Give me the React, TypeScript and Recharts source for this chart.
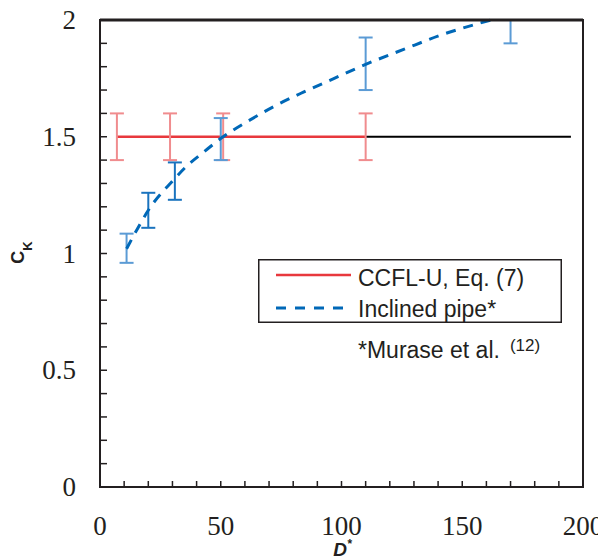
import React from "react";
import {
  ComposedChart,
  Line,
  Scatter,
  ErrorBar,
  XAxis,
  YAxis,
  ReferenceArea,
  ReferenceLine,
  Legend,
} from "recharts";

// CCFL-U correlation, Eq. (7)
const ccflCk = 1.5;
const ccflX = [7, 110];
const ccflExtX = [110, 195];
const ccflBarX = [7, 29, 51, 110];
const ccflBarLo = [1.4, 1.4, 1.4, 1.4];
const ccflBarHi = [1.6, 1.6, 1.6, 1.6];

// inclined pipe data (Murase et al.)
const pipeX = [11, 16, 20, 30, 36, 43, 51, 61, 73, 84, 97, 110, 126, 141, 155, 162];
const pipeCk = [1.02, 1.115, 1.185, 1.31, 1.375, 1.435, 1.5, 1.565, 1.635, 1.69, 1.75, 1.81, 1.875, 1.935, 1.98, 2.0];
const pipeBarX = [11, 50, 110, 170];
const pipeBarLo = [0.96, 1.4, 1.7, 1.9];
const pipeBarHi = [1.085, 1.58, 1.925, 2.0];
const pipeBarDarkX = [20, 31];
const pipeBarDarkLo = [1.11, 1.23];
const pipeBarDarkHi = [1.26, 1.39];

const xTicks = [0, 10, 20, 30, 40, 50, 60, 70, 80, 90, 100, 110, 120, 130, 140, 150, 160, 170, 180, 190, 200];
const xMajor = [0, 50, 100, 150, 200];
const yTicks = [0, 0.1, 0.2, 0.3, 0.4, 0.5, 0.6, 0.7, 0.8, 0.9, 1, 1.1, 1.2, 1.3, 1.4, 1.5, 1.6, 1.7, 1.8, 1.9, 2];
const yMajor = [0, 0.5, 1, 1.5, 2];

const INK = "#231f20";
const RED = "#e8383d";
const RED_BAR = "#f08c8e";
const BLUE = "#0068b7";
const BLUE_BAR = "#5b9bd5";
const BLUE_BAR_DARK = "#1a73be";
const SERIF = "'Liberation Serif', 'Times New Roman', serif";
const SANS = "'Liberation Sans', Arial, sans-serif";

const toLine = (xs: number[], ys: number[]) => xs.map((x, i) => ({ x, y: ys[i] }));
const toBars = (xs: number[], lo: number[], hi: number[]) =>
  xs.map((x, i) => ({ x, y: (lo[i] + hi[i]) / 2, err: (hi[i] - lo[i]) / 2 }));

const ccflLine = toLine(ccflX, ccflX.map(() => ccflCk));
const ccflExt = toLine(ccflExtX, ccflExtX.map(() => ccflCk));
const ccflBars = toBars(ccflBarX, ccflBarLo, ccflBarHi);
const pipeLine = toLine(pipeX, pipeCk);
const pipeBars = toBars(pipeBarX, pipeBarLo, pipeBarHi);
const pipeBarsDark = toBars(pipeBarDarkX, pipeBarDarkLo, pipeBarDarkHi);

const XTick = ({ x, y, payload }: any) => (
  <g>
    <line x1={x} y1={y} x2={x} y2={y - 6} stroke={INK} strokeWidth={1.5} />
    {xMajor.includes(payload.value) && (
      <text x={x} y={y + 48} textAnchor="middle" fontFamily={SERIF} fontSize={27} fill={INK}>
        {payload.value}
      </text>
    )}
  </g>
);

const YTick = ({ x, y, payload }: any) => (
  <g>
    <line x1={x} y1={y} x2={x + 7} y2={y} stroke={INK} strokeWidth={1.5} />
    {yMajor.includes(payload.value) && (
      <text x={x - 24} y={y + 9} textAnchor="end" fontFamily={SERIF} fontSize={27} fill={INK}>
        {payload.value}
      </text>
    )}
  </g>
);

const LegendBox = () => (
  <svg width={310} height={112}>
    <rect x={0.75} y={0.75} width={302.5} height={62.5} fill="#fff" stroke={INK} strokeWidth={1.5} />
    <line x1={18} y1={16} x2={93} y2={16} stroke={RED} strokeWidth={2.5} />
    <line x1={18} y1={49} x2={86} y2={49} stroke={BLUE} strokeWidth={3} strokeDasharray="10 9" />
    <g fontFamily={SANS} fontSize={23} fill={INK}>
      <text x={100} y={27}>CCFL-U, Eq. (7)</text>
      <text x={100} y={58}>Inclined pipe*</text>
      <text x={100} y={99}>
        *Murase et al.
        <tspan dx={10} dy={-7} fontSize={17}>(12)</tspan>
      </text>
    </g>
  </svg>
);

const YTitle = ({ viewBox }: any) => {
  const cy = viewBox.y + viewBox.height / 2 - 1;
  return (
    <text
      transform="rotate(-90)"
      x={-cy}
      y={15.5}
      textAnchor="middle"
      fontFamily={SANS}
      fontWeight="bold"
      fontSize={18}
      fill={INK}
    >
      C
      <tspan fontSize={13} dy={8}>K</tspan>
    </text>
  );
};

const XTitle = ({ viewBox }: any) => (
  <text
    x={viewBox.x + viewBox.width / 2 + 1}
    y={viewBox.y + 69}
    textAnchor="middle"
    fontFamily={SANS}
    fontWeight="bold"
    fontStyle="italic"
    fontSize={19}
    fill={INK}
  >
    D
    <tspan fontSize={12} dy={-8}>*</tspan>
  </text>
);

export default function App() {
  return (
    <ComposedChart width={598} height={552} margin={{ top: 12, right: 23, left: 0, bottom: 0 }}>
      <XAxis
        dataKey="x"
        type="number"
        domain={[0, 200]}
        ticks={xTicks}
        interval={0}
        height={73}
        tickSize={0}
        tickMargin={0}
        tickLine={false}
        axisLine={false}
        tick={<XTick />}
        label={<XTitle />}
      />
      <YAxis
        type="number"
        domain={[0, 2]}
        ticks={yTicks}
        interval={0}
        width={92}
        tickSize={0}
        tickMargin={0}
        tickLine={false}
        axisLine={false}
        tick={<YTick />}
        label={<YTitle />}
      />
      <Line data={ccflExt} dataKey="y" stroke="#000" strokeWidth={2} dot={false} isAnimationActive={false} legendType="none" />
      <Line data={ccflLine} dataKey="y" stroke={RED} strokeWidth={2.5} dot={false} isAnimationActive={false} />
      <Scatter data={ccflBars} dataKey="y" shape={() => <g />} isAnimationActive={false} legendType="none">
        <ErrorBar dataKey="err" direction="y" width={7} stroke={RED_BAR} strokeWidth={2} />
      </Scatter>
      <Scatter data={pipeBars} dataKey="y" shape={() => <g />} isAnimationActive={false} legendType="none">
        <ErrorBar dataKey="err" direction="y" width={7} stroke={BLUE_BAR} strokeWidth={2} />
      </Scatter>
      <Scatter data={pipeBarsDark} dataKey="y" shape={() => <g />} isAnimationActive={false} legendType="none">
        <ErrorBar dataKey="err" direction="y" width={7} stroke={BLUE_BAR_DARK} strokeWidth={2} />
      </Scatter>
      <Line
        data={pipeLine}
        dataKey="y"
        type="monotone"
        stroke={BLUE}
        strokeWidth={3}
        strokeDasharray="10 8"
        dot={false}
        isAnimationActive={false}
      />
      <ReferenceArea x1={0} x2={200} y1={0} y2={2} fill="none" stroke={INK} strokeWidth={2} />
      <ReferenceLine y={2} stroke={INK} strokeWidth={3} />
      <Legend
        align="center"
        verticalAlign="middle"
        content={<LegendBox />}
        wrapperStyle={{ left: 250, top: 251, width: 310, height: 112 }}
      />
    </ComposedChart>
  );
}
